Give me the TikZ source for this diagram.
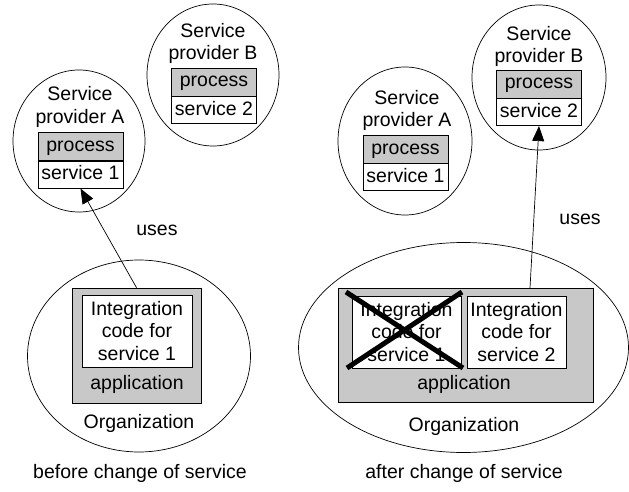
\documentclass[tikz,border=0pt]{standalone}
\usepackage{fontspec}
\setmainfont{Liberation Sans}
\usetikzlibrary{shapes.geometric,arrows.meta}
\definecolor{boxgray}{RGB}{200,200,200}
\begin{document}
\begin{tikzpicture}[x=1pt,y=-1pt,
  every node/.style={font=\fontsize{19.5}{22.5}\selectfont, inner sep=0pt},
  oval/.style={draw, ellipse, line width=0.7pt},
  procbox/.style={draw, fill=boxgray, line width=0.7pt, minimum width=85pt, minimum height=28pt, text height=13.5pt, text depth=3.5pt},
  servbox/.style={draw, fill=white, line width=0.7pt, minimum width=85pt, minimum height=27pt, text height=13.5pt, text depth=3.5pt},
  appbox/.style={draw, fill=boxgray, line width=0.7pt},
  codebox/.style={draw, fill=white, line width=0.7pt, align=center},
  lbl/.style={align=center, anchor=base},
  uses/.style={-{Triangle[length=15pt,width=12pt]}, line width=0.7pt},
  cross/.style={line width=5pt}
]
\useasboundingbox (0,0) rectangle (629,492);

% ---------- left panel ----------
\node[oval, minimum width=132pt, minimum height=142pt] (cAL) at (79,141) {};
\node[oval, minimum width=132pt, minimum height=142pt] (cBL) at (213,75) {};
\node[lbl] (tAL) at (80,123.5) {Service\\provider A};
\node[lbl] (tBL) at (213,60) {Service\\provider B};
\node[procbox] (pAL) at (80.5,146.5) {process};
\node[servbox, anchor=north] (sAL) at (pAL.south) {service 1};
\node[procbox] (pBL) at (214,82) {process};
\node[servbox, anchor=north] (sBL) at (pBL.south) {service 2};

\node[oval, minimum width=223pt, minimum height=192pt] (oL) at (139,356) {};
\node[appbox, minimum width=129pt, minimum height=115pt] (appL) at (136.5,345.5) {};
\node[codebox, minimum width=110pt, minimum height=72pt] (iL) at (137,331) {Integration\\code for\\service 1};
\node[lbl] (aL) at (137,389.5) {application};
\node[lbl] (orgL) at (139,428) {Organization};
\node[lbl] (uL) at (157,235) {uses};
\node[lbl] (capL) at (140,478) {before change of service};
\draw[uses] (appL.north) -- (sAL.south);

% ---------- right panel ----------
\node[oval, minimum width=134pt, minimum height=148pt] (cAR) at (405,141) {};
\node[oval, minimum width=134pt, minimum height=145pt] (cBR) at (539,77.5) {};
\node[lbl] (tAR) at (407,127) {Service\\provider A};
\node[lbl] (tBR) at (539,63) {Service\\provider B};
\node[procbox] (pAR) at (405.5,149) {process};
\node[servbox, anchor=north] (sAR) at (pAR.south) {service 1};
\node[procbox] (pBR) at (539,84) {process};
\node[servbox, anchor=north] (sBR) at (pBR.south) {service 2};

\node[oval, minimum width=330pt, minimum height=210pt] (oR) at (463.5,347.5) {};
\node[appbox, minimum width=255pt, minimum height=114pt] (appR) at (465.5,345) {};
\node[codebox, minimum width=109pt, minimum height=72pt] (i1R) at (406.5,332) {Integration\\code for\\service 1};
\node[codebox, minimum width=99pt, minimum height=72pt] (i2R) at (516.5,332) {Integration\\code for\\service 2};
\draw[cross] (346,292) -- (463,368);
\draw[cross] (347,368) -- (462,292);
\node[lbl] (aR) at (464,389.5) {application};
\node[lbl] (orgR) at (464,431) {Organization};
\node[lbl] (uR) at (580,224) {uses};
\node[lbl] (capR) at (464,478) {after change of service};
\coordinate (cR) at (530,288);
\draw[uses] (cR) -- (sBR.south);
\end{tikzpicture}
\end{document}
